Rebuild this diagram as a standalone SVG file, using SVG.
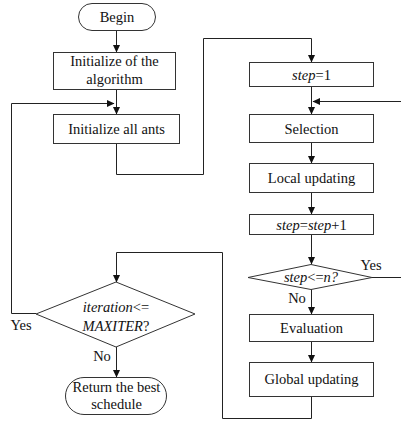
<svg xmlns="http://www.w3.org/2000/svg" width="401" height="422" viewBox="0 0 401 422">
  <style>
    .box { fill: #fff; stroke: #333; stroke-width: 1; }
    .wire { fill: none; stroke: #222; stroke-width: 1; }
    text { font-family: 'Liberation Serif', 'DejaVu Serif', serif; font-size: 14.5px; fill: #111; text-anchor: middle; }
    .it { font-style: italic; }
  </style>
  <defs>
    <marker id="arr" markerWidth="8" markerHeight="8" refX="7" refY="4" orient="auto" markerUnits="userSpaceOnUse">
      <path d="M0,0.5 L7.5,4 L0,7.5 Z" fill="#111"/>
    </marker>
  </defs>

  <g id="connectors">
    <line class="wire" x1="116.5" y1="30" x2="116.5" y2="52" marker-end="url(#arr)"/>
    <line class="wire" x1="116.5" y1="90" x2="116.5" y2="114" marker-end="url(#arr)"/>
    <!-- outer loop: iteration check back to ant initialisation -->
    <polyline class="wire" points="36,313.5 11.5,313.5 11.5,103.5 114,103.5" marker-end="url(#arr)"/>
    <!-- ants initialised, go to step loop -->
    <polyline class="wire" points="116.5,144 116.5,174.5 203.5,174.5 203.5,38.5 311.5,38.5 311.5,62" marker-end="url(#arr)"/>
    <line class="wire" x1="311.5" y1="87" x2="311.5" y2="114" marker-end="url(#arr)"/>
    <!-- inner loop: step check back to selection -->
    <polyline class="wire" points="372,277.5 402,277.5 402,101.5 313,101.5" marker-end="url(#arr)"/>
    <line class="wire" x1="311.5" y1="143" x2="311.5" y2="163" marker-end="url(#arr)"/>
    <line class="wire" x1="311.5" y1="193" x2="311.5" y2="214" marker-end="url(#arr)"/>
    <line class="wire" x1="311.5" y1="235" x2="311.5" y2="264" marker-end="url(#arr)"/>
    <line class="wire" x1="311.5" y1="289" x2="311.5" y2="314" marker-end="url(#arr)"/>
    <line class="wire" x1="311.5" y1="342" x2="311.5" y2="362" marker-end="url(#arr)"/>
    <!-- global update back to iteration check -->
    <polyline class="wire" points="311.5,397 311.5,418.5 222.5,418.5 222.5,252.5 116.5,252.5 116.5,282" marker-end="url(#arr)"/>
    <line class="wire" x1="116.5" y1="347" x2="116.5" y2="377" marker-end="url(#arr)"/>
    <text x="21" y="330">Yes</text>
    <text x="102" y="361">No</text>
    <text x="371" y="270">Yes</text>
    <text x="297" y="303">No</text>
  </g>

  <g id="begin">
    <rect class="box" x="78.5" y="3.5" width="77" height="27" rx="13.5"/>
    <text x="117" y="22">Begin</text>
  </g>
  <g id="init-algorithm">
    <rect class="box" x="53.5" y="52.5" width="122" height="37"/>
    <text x="114.5" y="66">Initialize of the</text>
    <text x="114.5" y="84">algorithm</text>
  </g>
  <g id="init-ants">
    <rect class="box" x="53.5" y="114.5" width="126" height="29"/>
    <text x="116.5" y="134">Initialize all ants</text>
  </g>
  <g id="iteration-check">
    <polygon class="box" points="116,282 195,314 116,347 36,314"/>
    <text x="116" y="312"><tspan class="it">iteration</tspan>&lt;=</text>
    <text x="116" y="331"><tspan class="it">MAXITER</tspan>?</text>
  </g>
  <g id="return-best">
    <rect class="box" x="65.5" y="377.5" width="101" height="37" rx="18.5"/>
    <text x="116.5" y="392">Return the best</text>
    <text x="116.5" y="409">schedule</text>
  </g>
  <g id="step-init">
    <rect class="box" x="249.5" y="62.5" width="124" height="24"/>
    <text x="311.5" y="80"><tspan class="it">step</tspan>=1</text>
  </g>
  <g id="selection">
    <rect class="box" x="249.5" y="114.5" width="124" height="28"/>
    <text x="311.5" y="134">Selection</text>
  </g>
  <g id="local-update">
    <rect class="box" x="249.5" y="163.5" width="124" height="29"/>
    <text x="311.5" y="183">Local updating</text>
  </g>
  <g id="step-increment">
    <rect class="box" x="249.5" y="214.5" width="124" height="20"/>
    <text x="311.5" y="230"><tspan class="it">step</tspan>=<tspan class="it">step</tspan>+1</text>
  </g>
  <g id="step-check">
    <polygon class="box" points="311,264.5 372,277.5 311,289.5 248,277.5"/>
    <text x="311" y="282"><tspan class="it">step</tspan>&lt;=<tspan class="it">n?</tspan></text>
  </g>
  <g id="evaluation">
    <rect class="box" x="249.5" y="314.5" width="124" height="27"/>
    <text x="311.5" y="333">Evaluation</text>
  </g>
  <g id="global-update">
    <rect class="box" x="249.5" y="362.5" width="124" height="34"/>
    <text x="311.5" y="384">Global updating</text>
  </g>
</svg>
